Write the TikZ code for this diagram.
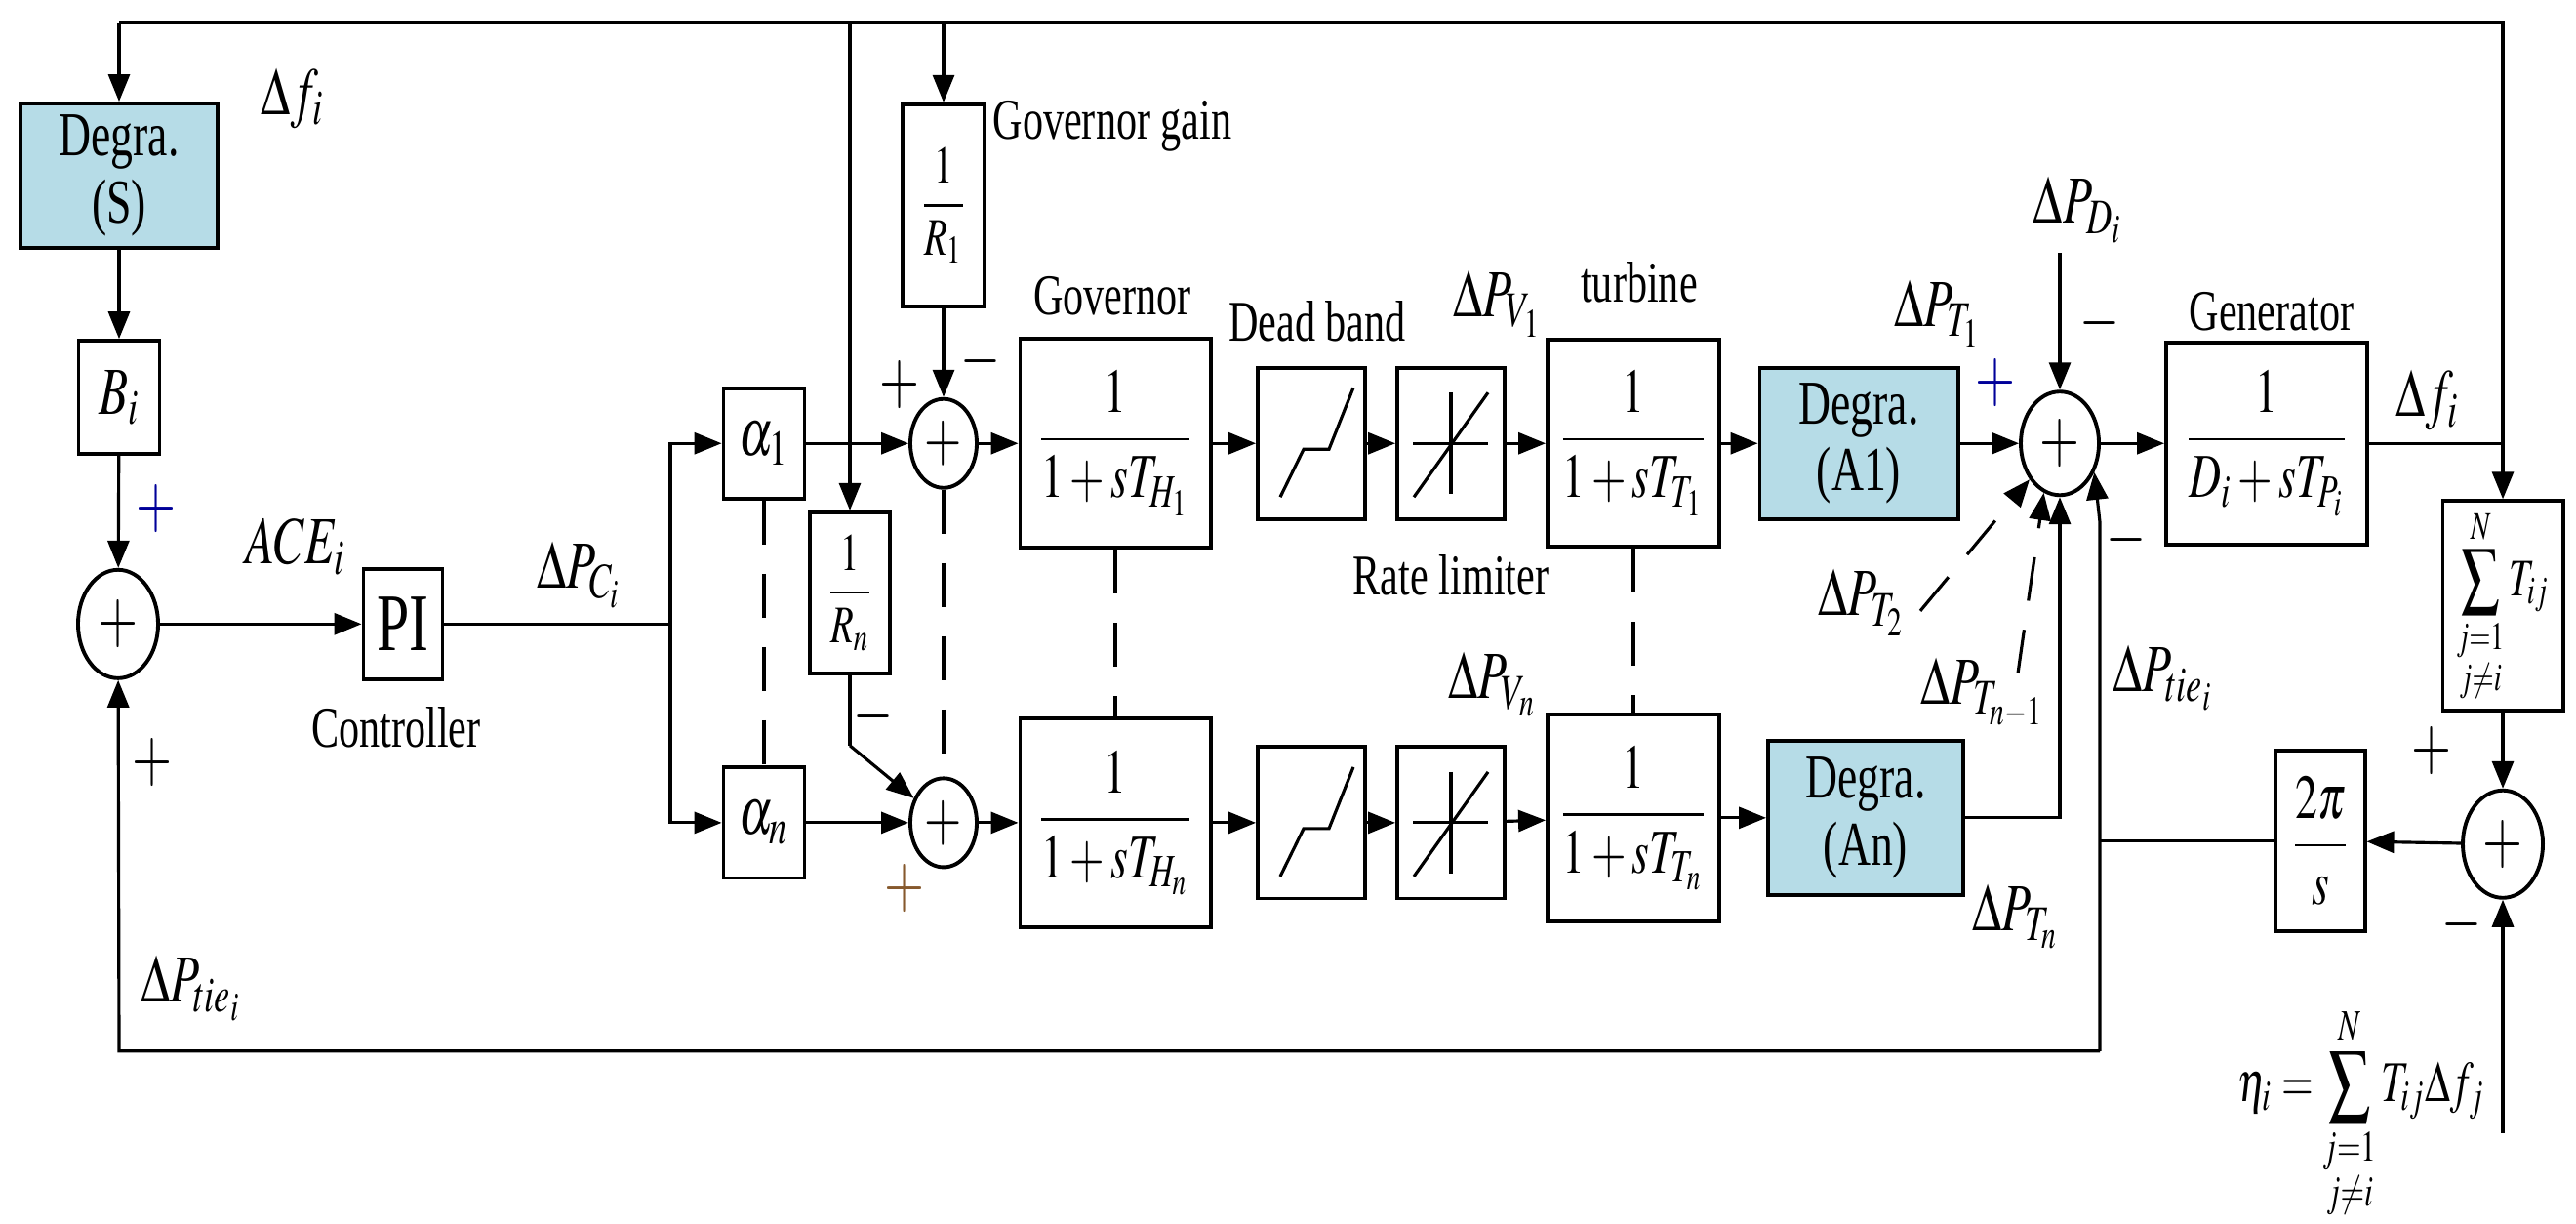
\documentclass[tikz,border=0pt]{standalone}
\usepackage{amsmath}
\usepackage{mathptmx}
\usepackage{fontspec}
\setmainfont{Liberation Serif}
\usetikzlibrary{arrows.meta,shapes.geometric}
\newcommand\vs[1]{\scalebox{1}[1.4]{#1}}
\definecolor{dblue}{RGB}{182,220,231}
\begin{document}
\begin{tikzpicture}[x=0.01cm,y=-0.01682cm,
  line width=0.9pt,
  >={Triangle[length=0.28cm,width=0.22cm]},
  blk/.style={draw,rectangle,inner sep=0pt,line width=1.1pt},
  deg/.style={blk,fill=dblue,font=\fontsize{13}{13}\selectfont,align=center},
  sum/.style={draw,ellipse,inner sep=0pt,line width=1.1pt},
  lab/.style={font=\fontsize{12}{14}\selectfont,inner sep=0pt},
  mlab/.style={font=\fontsize{14}{16}\selectfont,inner sep=0pt},
  sgn/.style={font=\fontsize{15}{15}\selectfont,inner sep=0pt},
  dsh/.style={dash pattern=on 0.45cm off 0.3cm}]
\useasboundingbox (0,0) rectangle (2640,745);
% blocks
\node[deg,minimum width=2.02cm,minimum height=1.48cm] (degS) at (122,107) {\vs{Degra.}\\[2pt]\vs{(S)}};
\node[blk,minimum width=0.83cm,minimum height=1.16cm,mlab] (Bi) at (122,242) {\vs{$B_i$}};
\node[sum,minimum width=0.82cm,minimum height=1.11cm] (s1) at (121,380) {\vs{\fontsize{15}{15}\selectfont$+$}};
\node[blk,minimum width=0.81cm,minimum height=1.13cm,font=\fontsize{17}{17}\selectfont] (PI) at (413,380) {\vs{PI}};
\node[blk,minimum width=0.83cm,minimum height=1.13cm,mlab] (a1) at (783,270) {\vs{$\alpha_1$}};
\node[blk,minimum width=0.83cm,minimum height=1.13cm,mlab] (aN) at (783,501) {\vs{$\alpha_n$}};
\node[blk,minimum width=0.84cm,minimum height=2.07cm,font=\fontsize{11}{11}\selectfont] (R1) at (967,125) {\vs{$\dfrac{1}{R_1}$}};
\node[blk,minimum width=0.82cm,minimum height=1.65cm,font=\fontsize{11}{11}\selectfont] (RN) at (871,361) {\vs{$\dfrac{1}{R_n}$}};
\node[sum,minimum width=0.68cm,minimum height=0.91cm] (sA) at (967,270) {\vs{\fontsize{14}{14}\selectfont$+$}};
\node[sum,minimum width=0.68cm,minimum height=0.91cm] (sB) at (967,501) {\vs{\fontsize{14}{14}\selectfont$+$}};
\node[blk,minimum width=1.95cm,minimum height=2.14cm,font=\fontsize{13}{13}\selectfont] (g1) at (1143,270) {\vs{$\dfrac{\;1\;}{1+sT_{H_1}}$}};
\node[blk,minimum width=1.95cm,minimum height=2.14cm,font=\fontsize{13}{13}\selectfont] (gN) at (1143,501) {\vs{$\dfrac{\;1\;}{1+sT_{H_n}}$}};
\node[blk,minimum width=1.1cm,minimum height=1.55cm] (d1) at (1344,270) {};
\node[blk,minimum width=1.1cm,minimum height=1.55cm] (dN) at (1344,501) {};
\node[blk,minimum width=1.1cm,minimum height=1.55cm] (r1) at (1487,270) {};
\node[blk,minimum width=1.1cm,minimum height=1.55cm] (rN) at (1487,501) {};
\node[blk,minimum width=1.76cm,minimum height=2.12cm,font=\fontsize{13}{13}\selectfont] (t1) at (1674,270) {\vs{$\dfrac{\;1\;}{1+sT_{T_1}}$}};
\node[blk,minimum width=1.76cm,minimum height=2.12cm,font=\fontsize{13}{13}\selectfont] (tN) at (1674,498) {\vs{$\dfrac{\;1\;}{1+sT_{T_n}}$}};
\node[deg,minimum width=2.03cm,minimum height=1.55cm] (A1) at (1905,270) {\vs{Degra.}\\[2pt]\vs{(A1)}};
\node[deg,minimum width=2.0cm,minimum height=1.58cm] (AN) at (1912,498) {\vs{Degra.}\\[2pt]\vs{(An)}};
\node[sum,minimum width=0.8cm,minimum height=1.06cm] (S) at (2111,270) {\vs{\fontsize{15}{15}\selectfont$+$}};
\node[blk,minimum width=2.06cm,minimum height=2.07cm,font=\fontsize{13}{13}\selectfont] (gen) at (2323,270) {\vs{$\dfrac{\;1\;}{D_i+sT_{P_i}}$}};
\node[blk,minimum width=1.23cm,minimum height=2.15cm,font=\fontsize{11}{11}\selectfont] (Tij) at (2565,369) {\vs{$\displaystyle\sum_{\substack{j=1\\ j\neq i}}^{N}T_{ij}$}};
\node[sum,minimum width=0.82cm,minimum height=1.1cm] (s2) at (2565,514) {\vs{\fontsize{15}{15}\selectfont$+$}};
\node[blk,minimum width=0.91cm,minimum height=1.85cm,font=\fontsize{13}{13}\selectfont] (tp) at (2378,512) {\vs{$\dfrac{2\pi}{s}$}};
% icons
\foreach \n in {d1,dN}{
 \begin{scope}[shift={(\n.center)},x=0.01cm,y=-0.01cm]
  \draw (-32,55) -- (-8,6) -- (18,6) -- (43,-57);
 \end{scope}}
\foreach \n in {r1,rN}{
 \begin{scope}[shift={(\n.center)},x=0.01cm,y=-0.01cm]
  \draw (-39,0) -- (38,0); \draw (0,-52) -- (0,52); \draw (-38,55) -- (38,-52);
 \end{scope}}
% coordinates
\coordinate (tl) at (122,14);
\coordinate (tr) at (2565,14);
\coordinate (jf) at (2565,270);
\coordinate (jc) at (687,380);
\coordinate (rk) at (871,454);
\coordinate (pd) at (2111,154);
\coordinate (tb) at (2152,640);
\coordinate (tk) at (2152,512);
\coordinate (tq) at (2152,318);
\coordinate (bl) at (122,640);
\coordinate (eta) at (2565,690);
\coordinate (d2) at (1968,372);
\coordinate (dn) at (2068,410);
% connectors
\draw (gen) -- (jf) -- (tr) -- (tl);
\draw[->] (tl) -- (degS);
\draw[->] (jf) -- (Tij);
\draw[->] (R1 |- tl) -- (R1);
\draw[->] (RN |- tl) -- (RN);
\draw[->] (degS) -- (Bi);
\draw[->] (Bi) -- (s1);
\draw[->] (s1) -- (PI);
\draw (PI) -- (jc);
\draw[->] (jc) |- (a1);
\draw[->] (jc) |- (aN);
\draw[->] (a1) -- (sA);
\draw[->] (aN) -- (sB);
\draw[->] (R1) -- (sA);
\draw (RN) -- (rk);
\draw[->] (rk) -- (sB);
\draw[->] (sA) -- (g1); \draw[->] (g1) -- (d1); \draw[->] (d1) -- (r1); \draw[->] (r1) -- (t1); \draw[->] (t1) -- (A1); \draw[->] (A1) -- (S); \draw[->] (S) -- (gen);
\draw[->] (sB) -- (gN); \draw[->] (gN) -- (dN); \draw[->] (dN) -- (rN); \draw[->] (rN) -- (tN); \draw[->] (tN) -- (AN);
\draw[->] (AN) -| (S);
\draw[->] (pd) -- (S);
\draw[->] (s2) -- (tp);
\draw (tp) -- (tk);
\draw[->] (tb) -- (tq) -- (S.-40);
\draw[->] (tb) -- (bl) -- (s1);
\draw[->] (Tij) -- (s2);
\draw[->] (eta) -- (s2);
\draw[dsh,->] (d2) -- (S.-130);
\draw[dsh,->] (dn) -- (S.-108);
\draw[dsh] (a1) -- (aN);
\draw[dsh] (sA) -- (sB);
\draw[dsh] (g1) -- (gN);
\draw[dsh] (t1) -- (tN);
% labels
\node[mlab] at (300,60) {\vs{$\Delta f_i$}};
\node[lab] at (1140,77) {\vs{Governor gain}};
\node[lab] at (1140,180) {\vs{Governor}};
\node[lab] at (1350,196) {\vs{Dead band}};
\node[lab] at (1487,350) {\vs{Rate limiter}};
\node[lab] at (1680,172) {\vs{turbine}};
\node[lab] at (2328,190) {\vs{Generator}};
\node[lab] at (406,443) {\vs{Controller}};
\node[mlab] at (303,333) {\vs{$ACE_i$}};
\node[mlab] at (594,350) {\vs{$\Delta P_{C_i}$}};
\node[mlab] at (1535,185) {\vs{$\Delta P_{V_1}$}};
\node[mlab] at (1530,417) {\vs{$\Delta P_{V_n}$}};
\node[mlab] at (1986,191) {\vs{$\Delta P_{T_1}$}};
\node[mlab] at (1908,367) {\vs{$\Delta P_{T_2}$}};
\node[mlab] at (2032,422) {\vs{$\Delta P_{T_{n-1}}$}};
\node[mlab] at (2066,558) {\vs{$\Delta P_{T_n}$}};
\node[mlab] at (2130,128) {\vs{$\Delta P_{D_i}$}};
\node[mlab] at (2488,244) {\vs{$\Delta f_i$}};
\node[mlab] at (2217,413) {\vs{$\Delta P_{tie_i}$}};
\node[mlab] at (196,602) {\vs{$\Delta P_{tie_i}$}};
\node[font=\fontsize{12}{14}\selectfont,inner sep=0pt,anchor=east] at (2548,678) {\vs{$\eta_i=\displaystyle\sum_{\substack{j=1\\ j\neq i}}^{N}T_{ij}\Delta f_j$}};
% signs
\node[sgn,text=blue!60!black] at (160,310) {\vs{$+$}};
\node[sgn] at (156,464) {\vs{$+$}};
\node[sgn] at (922,234) {\vs{$+$}};
\node[sgn] at (1005,220) {\vs{$-$}};
\node[sgn] at (895,436) {\vs{$-$}};
\node[sgn,text=brown!70!black] at (927,541) {\vs{$+$}};
\node[sgn,text=blue!60!black] at (2045,233) {\vs{$+$}};
\node[sgn] at (2152,197) {\vs{$-$}};
\node[sgn] at (2179,329) {\vs{$-$}};
\node[sgn] at (2492,457) {\vs{$+$}};
\node[sgn] at (2523,563) {\vs{$-$}};
\end{tikzpicture}
\end{document}
